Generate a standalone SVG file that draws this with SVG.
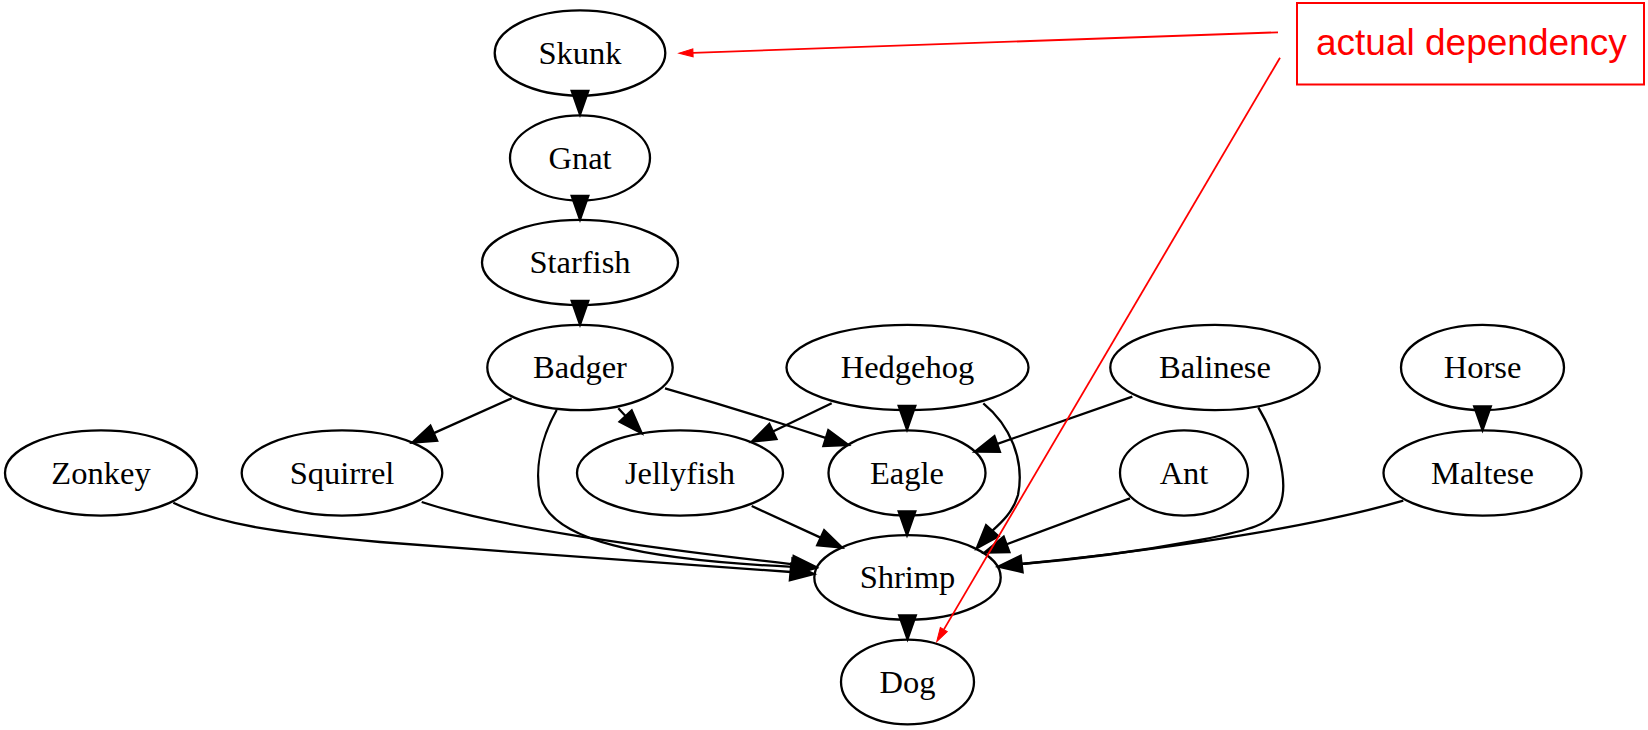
<svg xmlns="http://www.w3.org/2000/svg" xmlns:xlink="http://www.w3.org/1999/xlink" width="1648" height="730" viewBox="0 0 1648 730">
  <style>
    .node ellipse { fill: #ffffff; stroke: #000000; stroke-width: 2.3; }
    .node text { font-family: "Liberation Serif", "Times New Roman", serif; font-size: 32.5px; text-anchor: middle; fill: #000000; }
    .edge { fill: none; stroke: #000000; stroke-width: 2.3; }
    .head { fill: #000000; stroke: #000000; stroke-width: 2.3; stroke-linejoin: miter; }
    .note-line { fill: none; stroke: #ff0000; stroke-width: 1.8; }
    .note-head { fill: #ff0000; stroke: #ff0000; stroke-width: 1; }
    .note-box { fill: none; stroke: #ff0000; stroke-width: 2; }
    .note-text { font-family: "Liberation Sans", Arial, sans-serif; font-size: 37px; fill: #ff0000; }
  </style>
  <defs>
    <!-- arrowhead with its tip at the origin, pointing along +x -->
    <path id="arrow" d="M0,0 L-23.5,-8.3 L-23.5,8.3 Z"/>
    <path id="red-arrow" d="M0,0 L-14,-4 L-14,4 Z"/>
  </defs>
  <rect width="1648" height="730" fill="#ffffff"/>

  <!-- nodes -->
  <g id="skunk" class="node"><ellipse cx="580" cy="53" rx="85.3" ry="42.6"/><text x="580" y="63.5">Skunk</text></g>
  <g id="gnat" class="node"><ellipse cx="580" cy="158" rx="70" ry="42.6"/><text x="580" y="168.5">Gnat</text></g>
  <g id="starfish" class="node"><ellipse cx="580" cy="262.5" rx="98" ry="42.6"/><text x="580" y="273">Starfish</text></g>
  <g id="badger" class="node"><ellipse cx="580" cy="367.5" rx="92.7" ry="42.6"/><text x="580" y="378">Badger</text></g>
  <g id="hedgehog" class="node"><ellipse cx="907.5" cy="367.5" rx="121" ry="42.6"/><text x="907.5" y="378">Hedgehog</text></g>
  <g id="balinese" class="node"><ellipse cx="1215" cy="367.5" rx="104.7" ry="42.6"/><text x="1215" y="378">Balinese</text></g>
  <g id="horse" class="node"><ellipse cx="1482.5" cy="367.5" rx="81.5" ry="42.6"/><text x="1482.5" y="378">Horse</text></g>
  <g id="zonkey" class="node"><ellipse cx="101" cy="473" rx="96" ry="42.6"/><text x="101" y="483.5">Zonkey</text></g>
  <g id="squirrel" class="node"><ellipse cx="342" cy="473" rx="100.3" ry="42.6"/><text x="342" y="483.5">Squirrel</text></g>
  <g id="jellyfish" class="node"><ellipse cx="680" cy="473" rx="103" ry="42.6"/><text x="680" y="483.5">Jellyfish</text></g>
  <g id="eagle" class="node"><ellipse cx="907" cy="473" rx="78.5" ry="42.6"/><text x="907" y="483.5">Eagle</text></g>
  <g id="ant" class="node"><ellipse cx="1184" cy="473" rx="64" ry="42.6"/><text x="1184" y="483.5">Ant</text></g>
  <g id="maltese" class="node"><ellipse cx="1482.5" cy="473" rx="99" ry="42.6"/><text x="1482.5" y="483.5">Maltese</text></g>
  <g id="shrimp" class="node"><ellipse cx="907.5" cy="577.5" rx="93.2" ry="42.3"/><text x="907.5" y="588">Shrimp</text></g>
  <g id="dog" class="node"><ellipse cx="907.5" cy="682" rx="66.5" ry="42.3"/><text x="907.5" y="692.5">Dog</text></g>

  <!-- connectors, drawn over the nodes -->
  <g id="edges">
    <!-- Skunk -> Gnat -->
    <use xlink:href="#arrow" class="head" transform="translate(580,114.5) rotate(90)"/>
    <!-- Gnat -> Starfish -->
    <use xlink:href="#arrow" class="head" transform="translate(580,219.5) rotate(90)"/>
    <!-- Starfish -> Badger -->
    <use xlink:href="#arrow" class="head" transform="translate(580,324.5) rotate(90)"/>
    <!-- Badger -> Squirrel -->
    <path class="edge" d="M511.7,398.3 L433.3,433.4"/>
    <use xlink:href="#arrow" class="head" transform="translate(412.3,442.7) rotate(156.1)"/>
    <!-- Badger -> Jellyfish -->
    <path class="edge" d="M618.3,408.3 L626,416.5"/>
    <use xlink:href="#arrow" class="head" transform="translate(641.7,433.3) rotate(46.9)"/>
    <!-- Badger -> Eagle -->
    <path class="edge" d="M665,388.3 C720,404 775,421 826.3,438.2"/>
    <use xlink:href="#arrow" class="head" transform="translate(848.3,445) rotate(17.2)"/>
    <!-- Badger -> Shrimp -->
    <path class="edge" d="M556.7,410 C540,440 535,470 540,495 C550,540 640,560 792.5,566.8"/>
    <use xlink:href="#arrow" class="head" transform="translate(815.5,568) rotate(3)"/>
    <!-- Hedgehog -> Jellyfish -->
    <path class="edge" d="M831.7,403.3 L772.4,431.7"/>
    <use xlink:href="#arrow" class="head" transform="translate(751.7,441.7) rotate(154.4)"/>
    <!-- Hedgehog -> Eagle -->
    <use xlink:href="#arrow" class="head" transform="translate(907,429.5) rotate(90)"/>
    <!-- Hedgehog -> Shrimp -->
    <path class="edge" d="M983.3,403.3 C1010,425 1025,460 1018,495 C1013,512 1002,522 991.9,531.1"/>
    <use xlink:href="#arrow" class="head" transform="translate(976.7,548.3) rotate(131.6)"/>
    <!-- Balinese -> Eagle -->
    <path class="edge" d="M1132.3,396.7 L996.7,444.1"/>
    <use xlink:href="#arrow" class="head" transform="translate(975,451.7) rotate(160.7)"/>
    <!-- Balinese -> Shrimp -->
    <path class="edge" d="M1258.3,407.3 C1275,435 1290,480 1280,505 C1272,525 1250,530 1200,540 C1130,553 1070,560 1021.1,564"/>
    <!-- Maltese -> Shrimp -->
    <path class="edge" d="M1403.3,500.7 C1330,522 1200,546 1021.1,564"/>
    <use xlink:href="#arrow" class="head" transform="translate(998.3,566.7) rotate(173.2)"/>
    <!-- Horse -> Maltese -->
    <use xlink:href="#arrow" class="head" transform="translate(1482.5,430) rotate(90)"/>
    <!-- Zonkey -> Shrimp -->
    <path class="edge" d="M173.3,502.7 C220,525 280,533 380,542 C520,553 680,564 791.1,572"/>
    <use xlink:href="#arrow" class="head" transform="translate(814,574) rotate(5)"/>
    <!-- Squirrel -> Shrimp -->
    <path class="edge" d="M421.7,502 C500,528 650,548 793.2,564.3"/>
    <use xlink:href="#arrow" class="head" transform="translate(816,567) rotate(6.8)"/>
    <!-- Jellyfish -> Shrimp -->
    <path class="edge" d="M751.7,506 L821.1,537.9"/>
    <use xlink:href="#arrow" class="head" transform="translate(842,547.5) rotate(24.8)"/>
    <!-- Eagle -> Shrimp -->
    <use xlink:href="#arrow" class="head" transform="translate(907,535) rotate(90)"/>
    <!-- Ant -> Shrimp -->
    <path class="edge" d="M1130,498.3 L1006.1,544.5"/>
    <use xlink:href="#arrow" class="head" transform="translate(984.5,552.5) rotate(159.8)"/>
    <!-- Shrimp -> Dog -->
    <use xlink:href="#arrow" class="head" transform="translate(907.5,639) rotate(90)"/>
  </g>

  <!-- annotation callout -->
  <g id="note">
    <rect class="note-box" x="1297" y="3" width="347" height="81.5"/>
    <text class="note-text" x="1316" y="55">actual dependency</text>
    <path class="note-line" d="M1278,32.3 L693,52.8"/>
    <use xlink:href="#red-arrow" class="note-head" transform="translate(679,53.3) rotate(178)"/>
    <path class="note-line" d="M1280,57.7 L943.8,629.6"/>
    <use xlink:href="#red-arrow" class="note-head" transform="translate(936.7,641.7) rotate(120.45)"/>
  </g>
</svg>
